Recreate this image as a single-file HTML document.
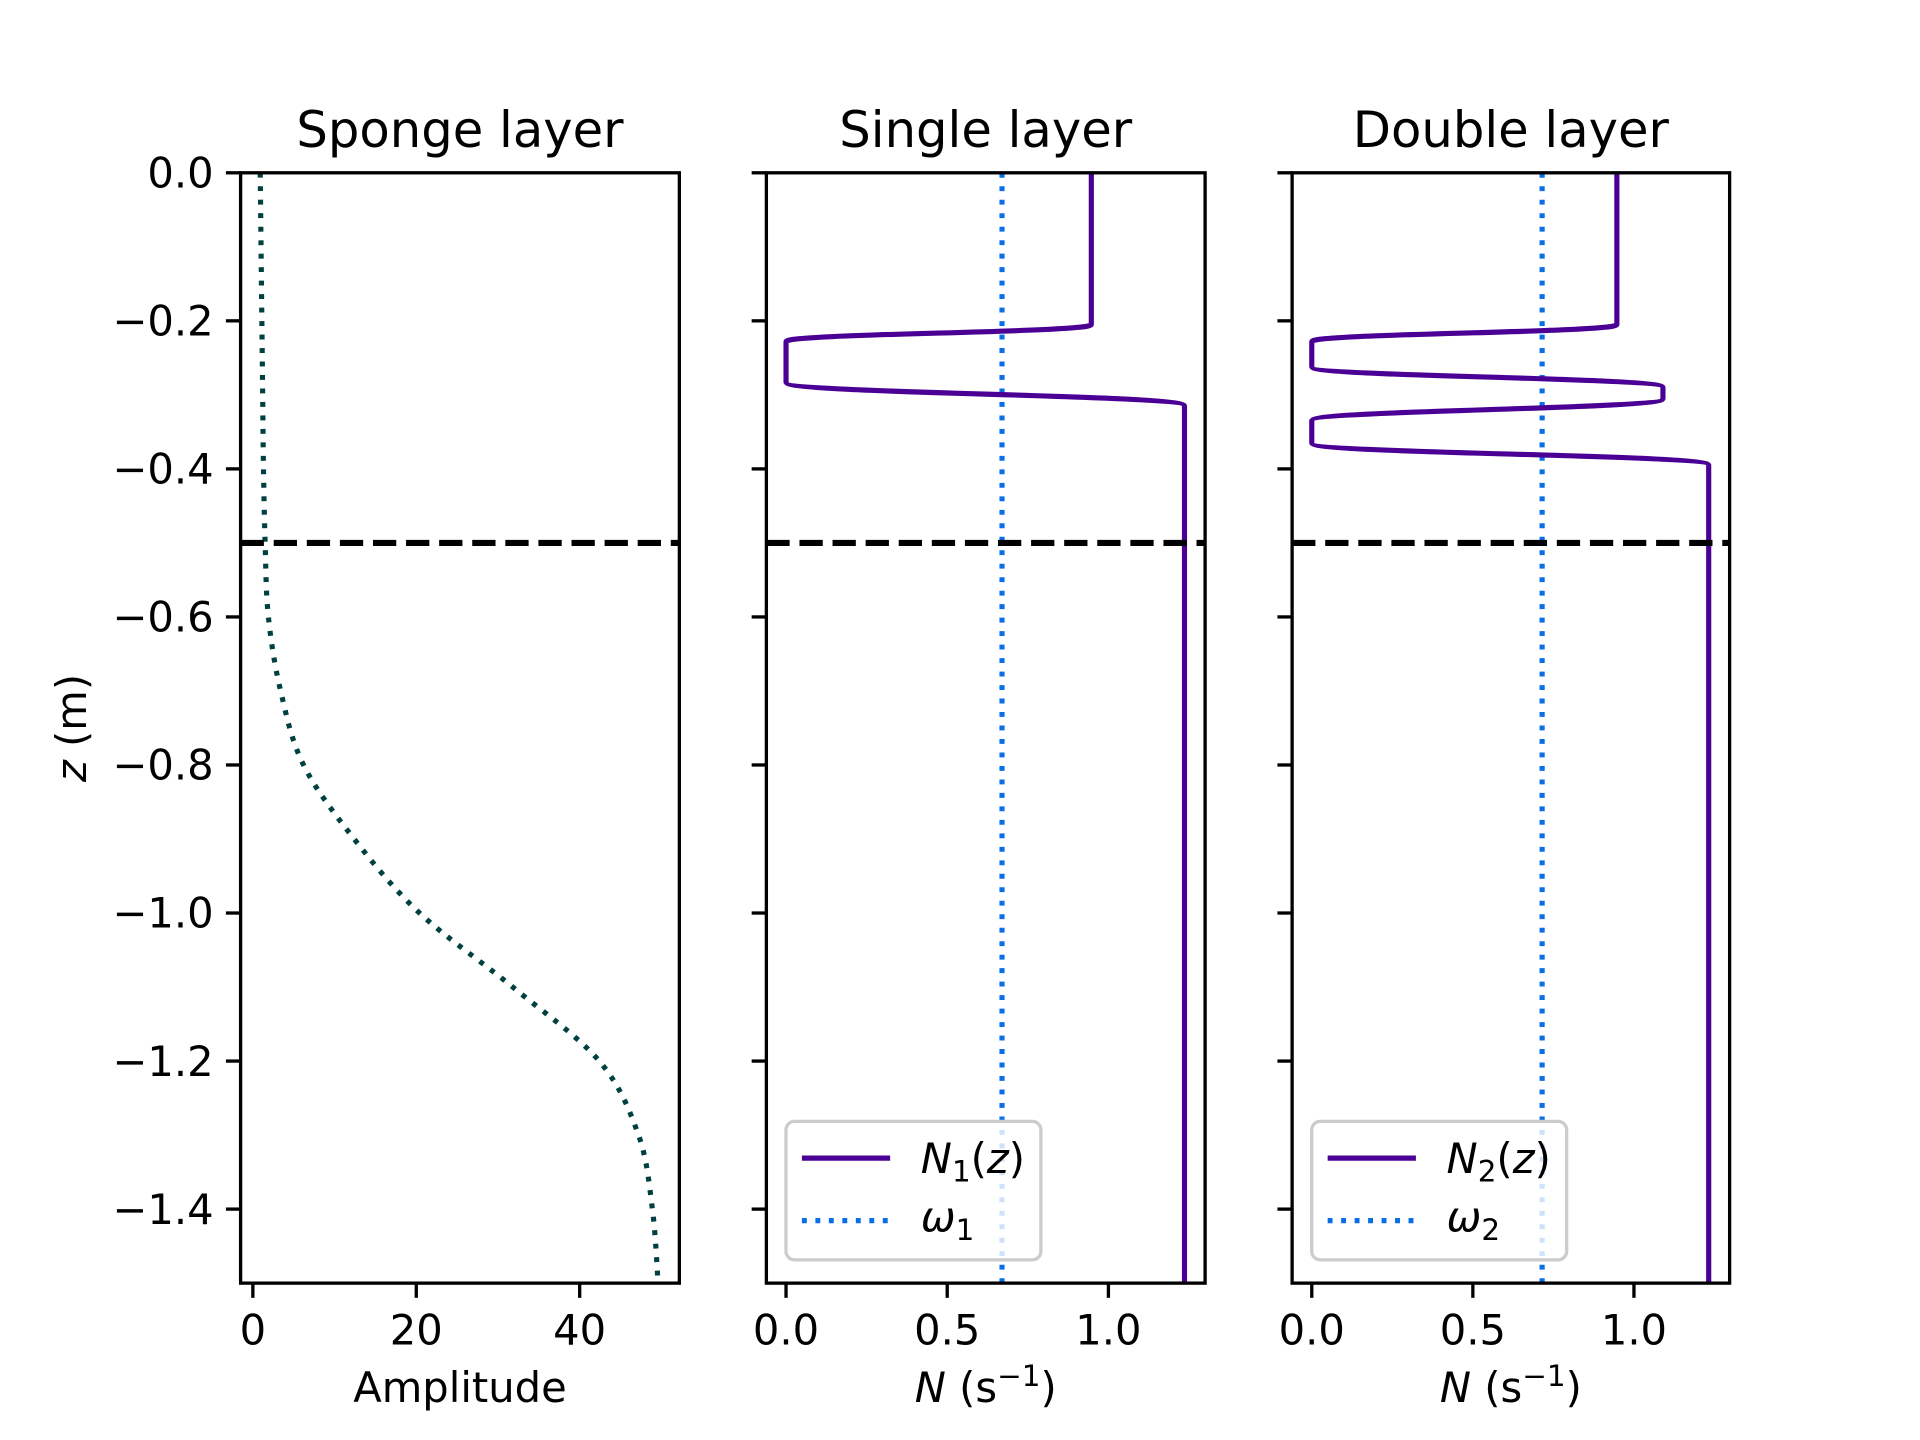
<!DOCTYPE html>
<html><head><meta charset="utf-8">
<style>
html,body{margin:0;padding:0;background:#fff;}
svg{display:block;}
text{font-family:"DejaVu Sans","Liberation Sans",sans-serif;fill:#000;}
</style></head>
<body>
<svg id="fig" width="1920" height="1440" viewBox="0 0 1566 1175" xmlns="http://www.w3.org/2000/svg">
<rect width="1566" height="1175" fill="#fff"/>
<g id="root"></g>
</svg>
<script>
// ---- data ----
const spongeZ = [0,-0.1,-0.2,-0.3,-0.4,-0.5,-0.6,-0.7,-0.8,-0.9,-1.0,-1.1,-1.2,-1.3,-1.4,-1.5];
const spongeAmp = [0.9,1.0,1.1,1.2,1.3,1.5,1.9,3.4,6.2,12.4,20.4,31.8,42.4,47.2,48.9,49.6];
const n1Z = [0,-0.205,-0.228,-0.283,-0.315,-1.5];
const n1N = [0.947,0.947,0.0,0.0,1.236,1.236];
const n2Z = [0,-0.205,-0.228,-0.262,-0.29,-0.305,-0.335,-0.365,-0.395,-1.5];
const n2N = [0.947,0.947,0.0,0.0,1.09,1.09,0.0,0.0,1.232,1.232];
const omega1 = 0.67;
const omega2 = 0.715;
const spongeDepth = -0.5;
const yTicks = [0,-0.2,-0.4,-0.6,-0.8,-1.0,-1.2,-1.4];
const yTickLabels = ["0.0","\u22120.2","\u22120.4","\u22120.6","\u22120.8","\u22121.0","\u22121.2","\u22121.4"];
const ampTicks = [0,20,40];
const ampTickLabels = ["0","20","40"];
const nTicks = [0,0.5,1.0];
const nTickLabels = ["0.0","0.5","1.0"];

const NS="http://www.w3.org/2000/svg";
const rootG=document.getElementById('root');
function mk(tag,attrs,parent){const e=document.createElementNS(NS,tag);for(const k in attrs)e.setAttribute(k,attrs[k]);(parent||rootG).appendChild(e);return e;}

const FS=34, FT=40.5, FSUB=24;
const axTop=141,axBot=1047;
const yS=z=>axTop+(-z)/1.5*(axBot-axTop);
const panels=[
 {name:'sponge',x0:196,x1:554,xmin:-1.5,xmax:52.2,title:'Sponge layer'},
 {name:'single',x0:625,x1:983,xmin:-0.061,xmax:1.30,title:'Single layer'},
 {name:'double',x0:1054,x1:1411,xmin:-0.061,xmax:1.297,title:'Double layer'}
];
panels.forEach(p=>{p.xS=v=>p.x0+(v-p.xmin)/(p.xmax-p.xmin)*(p.x1-p.x0);});

panels.forEach((p,i)=>{
  const g=mk('g',{});
  
  
  const t=mk('text',{x:(p.x0+p.x1)/2,y:120,'text-anchor':'middle','font-size':FT},g);
  t.textContent=p.title;
  
  
  yTicks.forEach((z,k)=>{
    const tk=mk('line',{x1:p.x0-12,x2:p.x0,y1:yS(z),y2:yS(z),stroke:'#000','stroke-width':2.7},g);
    
    
    if(i===0){const l=mk('text',{x:p.x0-22,y:yS(z)+12,'text-anchor':'end','font-size':FS},g);l.textContent=yTickLabels[k];
      
      }
  });
  const xt=i===0?ampTicks:nTicks, xl=i===0?ampTickLabels:nTickLabels;
  xt.forEach((v,k)=>{
    const tk=mk('line',{x1:p.xS(v),x2:p.xS(v),y1:axBot,y2:axBot+12,stroke:'#000','stroke-width':2.7},g);
    
    
    const l=mk('text',{x:p.xS(v),y:1097,'text-anchor':'middle','font-size':FS},g);l.textContent=xl[k];
    
    
  });
  p.g=g;
});

(function(){
  const p=panels[0];
  const pts=spongeZ.map((z,i)=>[p.xS(spongeAmp[i]),yS(z)]);
  let d='M'+pts[0][0]+','+pts[0][1];
  for(let i=0;i<pts.length-1;i++){
    const p0=pts[Math.max(0,i-1)],p1=pts[i],p2=pts[i+1],p3=pts[Math.min(pts.length-1,i+2)];
    const c1=[p1[0]+(p2[0]-p0[0])/6,p1[1]+(p2[1]-p0[1])/6];
    const c2=[p2[0]-(p3[0]-p1[0])/6,p2[1]-(p3[1]-p1[1])/6];
    d+=` C${c1[0]},${c1[1]} ${c2[0]},${c2[1]} ${p2[0]},${p2[1]}`;
  }
  const c=mk('path',{d:d,fill:'none',stroke:'#004040','stroke-width':4.2,'stroke-dasharray':'4 7','stroke-linecap':'butt'},p.g);
  
  
})();

function nLine(p,zs,ns,name){
  const pts=zs.map((z,i)=>[p.xS(ns[i]),yS(z)]);
  let d='M'+pts[0][0]+','+pts[0][1];
  for(let i=1;i<pts.length;i++){
    const a=pts[i-1],b=pts[i];
    if(Math.abs(a[0]-b[0])<0.5){d+=` L${b[0]},${b[1]}`;}
    else{const ym=(a[1]+b[1])/2;d+=` C${a[0]},${ym} ${b[0]},${ym} ${b[0]},${b[1]}`;}
  }
  const l=mk('path',{d:d,fill:'none',stroke:'#4b0095','stroke-width':4.2},p.g);
  
  
}
function omegaLine(p,w,name){
  const l=mk('line',{x1:p.xS(w),x2:p.xS(w),y1:axTop,y2:axBot,stroke:'#0a6fe6','stroke-width':4.2,'stroke-dasharray':'4 7'},p.g);
  
  
}
omegaLine(panels[1],omega1,'omega1-line');
nLine(panels[1],n1Z,n1N,'n1-profile');
omegaLine(panels[2],omega2,'omega2-line');
nLine(panels[2],n2Z,n2N,'n2-profile');

panels.forEach(p=>{
  const d=mk('line',{x1:p.x0,x2:p.x1,y1:yS(spongeDepth),y2:yS(spongeDepth),stroke:'#000','stroke-width':5,'stroke-dasharray':'19 8'},p.g);
  
  
});

[[panels[1],'1'],[panels[2],'2']].forEach(([p,s])=>{
  const lg=mk('g',{},p.g);
  
  
  const bx=p.x0+16;
  const r=mk('rect',{x:bx,y:915,width:208,height:113,rx:7,fill:'rgba(255,255,255,0.8)',stroke:'#ccc','stroke-width':2.7},lg);
  
  
  const l1=mk('line',{x1:bx+13,x2:bx+85,y1:945,y2:945,stroke:'#4b0095','stroke-width':4.2},lg);
  
  
  const t1=mk('text',{x:bx+110,y:957,'font-size':FS},lg);
  t1.innerHTML=`<tspan font-style="italic">N</tspan><tspan font-size="${FSUB}" dy="7">${s}</tspan><tspan dy="-7">(</tspan><tspan font-style="italic">z</tspan>)`;
  
  
  const l2=mk('line',{x1:bx+13,x2:bx+85,y1:996,y2:996,stroke:'#0a6fe6','stroke-width':4.2,'stroke-dasharray':'4 7'},lg);
  
  
  const t2=mk('text',{x:bx+110,y:1005,'font-size':FS},lg);
  t2.innerHTML=`<tspan font-style="italic">ω</tspan><tspan font-size="${FSUB}" dy="7">${s}</tspan>`;
  
  
});

panels.forEach((p,i)=>{
  const s=mk('rect',{x:p.x0,y:axTop,width:p.x1-p.x0,height:axBot-axTop,fill:'none',stroke:'#000','stroke-width':2.7},p.g);
  
  
  const xl=mk('text',{x:(p.x0+p.x1)/2,y:1144,'text-anchor':'middle','font-size':FS},p.g);
  if(i===0) xl.textContent='Amplitude';
  else xl.innerHTML=`<tspan font-style="italic">N</tspan> (s<tspan font-size="${FSUB}" dy="-13">\u22121</tspan><tspan dy="13">)</tspan>`;
  
  
});
const yl=mk('text',{x:0,y:0,'text-anchor':'middle','font-size':FS,transform:'translate(70,594) rotate(-90)'});
yl.innerHTML='<tspan font-style="italic">z</tspan> (m)';


</script>
</body></html>
